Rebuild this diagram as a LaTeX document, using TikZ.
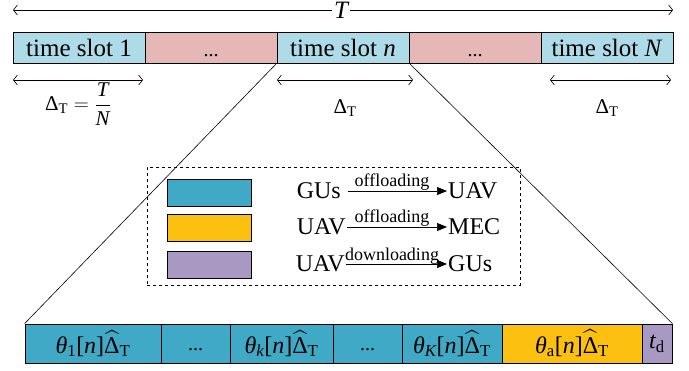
\documentclass[tikz,border=0pt]{standalone}
\usepackage{fontspec}
\setmainfont{Liberation Serif}
\usepackage{amsmath}
\usetikzlibrary{arrows.meta}
\definecolor{lblue}{RGB}{173,220,232}
\definecolor{lpink}{RGB}{229,184,183}
\definecolor{teal1}{RGB}{63,169,198}
\definecolor{gold1}{RGB}{252,192,16}
\definecolor{purp1}{RGB}{168,153,194}
\newcommand{\Dh}{\widehat{\text{Δ}}_{\text{T}}}
\tikzset{
 cell/.style={draw, line width=0.8pt, minimum height=31pt, inner sep=0pt, font=\fontsize{25}{28}\selectfont},
 bcell/.style={draw, line width=0.8pt, minimum height=39pt, inner sep=0pt, fill=teal1, font=\fontsize{24}{28}\selectfont},
 swatch/.style={draw, line width=1pt, minimum width=84pt, minimum height=27pt, inner sep=0pt},
 dimarr/.style={line width=0.6pt, {Straight Barb[length=4pt,width=10pt]}-{Straight Barb[length=4pt,width=10pt]}},
 leg/.style={inner sep=1pt, font=\fontsize{24}{28}\selectfont},
 legarr/.style={line width=0.7pt, -{Triangle[length=10pt,width=8pt]}},
 small/.style={font=\fontsize{18}{20}\selectfont, inner sep=0pt},
 lab/.style={font=\fontsize{21}{24}\selectfont, inner sep=0pt},
 zoomline/.style={line width=0.6pt}
}
\begin{document}
\begin{tikzpicture}[x=1pt,y=-1pt]
\useasboundingbox (0,0) rectangle (689,370);
% T arrow
\node[font=\fontsize{25}{28}\selectfont\itshape, inner sep=2pt] (T) at (341,10) {T};
\coordinate (tl) at (13,10);
\coordinate (tr) at (673,10);
\draw[line width=0.6pt, {Straight Barb[length=4pt,width=10pt]}-] (tl) -- (T.west);
\draw[line width=0.6pt, -{Straight Barb[length=4pt,width=10pt]}] (T.east) -- (tr);
% top bar
\node[cell, fill=lblue, minimum width=132pt] (s1) at (79,47.5) {time slot 1};
\node[cell, fill=lpink, minimum width=132pt] (d1) at (211,47.5) {\vphantom{tl}\fontsize{20}{24}\selectfont ...};
\node[cell, fill=lblue, minimum width=132pt] (sn) at (343,47.5) {time slot \textit{n}};
\node[cell, fill=lpink, minimum width=132pt] (d2) at (475,47.5) {\vphantom{tl}\fontsize{20}{24}\selectfont ...};
\node[cell, fill=lblue, minimum width=132pt] (sN) at (607,47.5) {time slot \textit{N}};
% dimension arrows
\coordinate (a1l) at (13,80); \coordinate (a1r) at (143,80);
\coordinate (a2l) at (277,80); \coordinate (a2r) at (413,80);
\coordinate (a3l) at (550,80); \coordinate (a3r) at (671,80);
\draw[dimarr] (a1l) -- (a1r);
\draw[dimarr] (a2l) -- (a2r);
\draw[dimarr] (a3l) -- (a3r);
\node[lab] (l1) at (78,104) {$\text{Δ}_{\text{T}}=\dfrac{\textit{T}}{\textit{N}}$};
\node[lab] (l2) at (345,108) {$\text{Δ}_{\text{T}}$};
\node[lab] (l3) at (607,108) {$\text{Δ}_{\text{T}}$};
% bottom bar
\node[bcell, minimum width=136pt] (b1) at (93,343.5) {$\textit{θ}_{\text{1}}\text{[}\textit{n}\text{]}\Dh$};
\node[bcell, minimum width=69pt] (b2) at (195.5,343.5) {\vphantom{[}\fontsize{20}{24}\selectfont ...};
\node[bcell, minimum width=103pt] (b3) at (281.5,343.5) {$\textit{θ}_{\textit{k}}\text{[}\textit{n}\text{]}\Dh$};
\node[bcell, minimum width=69pt] (b4) at (367.5,343.5) {\vphantom{[}\fontsize{20}{24}\selectfont ...};
\node[bcell, minimum width=100pt] (b5) at (452,343.5) {$\textit{θ}_{\textit{K}}\text{[}\textit{n}\text{]}\Dh$};
\node[bcell, fill=gold1, minimum width=140pt] (b6) at (572,343.5) {$\textit{θ}_{\text{a}}\text{[}\textit{n}\text{]}\Dh$};
\node[bcell, fill=purp1, minimum width=30pt] (b7) at (657,343.5) {$\textit{t}_{\text{d}}$};
% zoom lines
\draw[zoomline] (sn.south west) -- (b1.north west);
\draw[zoomline] (sn.south east) -- (b7.north east);
% legend
\node[draw, dashed, line width=0.8pt, minimum width=373pt, minimum height=118pt] (legend) at (333.5,226) {};
\node[swatch, fill=teal1] (w1) at (209,192.5) {};
\node[swatch, fill=gold1] (w2) at (209,228) {};
\node[swatch, fill=purp1] (w3) at (209,265) {};
\node[leg, anchor=east] (g1) at (342,191) {GUs};
\node[leg, anchor=west] (u1) at (447,191) {UAV};
\node[leg, anchor=east] (u2) at (347,227) {UAV};
\node[leg, anchor=west] (m2) at (447,227) {MEC};
\node[leg, anchor=east] (u3) at (346,264) {UAV};
\node[leg, anchor=west] (g3) at (447,264) {GUs};
\draw[legarr] (g1.east) ++(6,0) coordinate (g1e) -- (u1.west);
\draw[legarr] (u2.east) -- (m2.west);
\draw[legarr] (u3.east) -- (g3.west);
\node[small] (o1) at (392,182) {offloading};
\node[small] (o2) at (392,218) {offloading};
\node[small] (o3) at (392,256) {downloading};
\end{tikzpicture}
\end{document}
